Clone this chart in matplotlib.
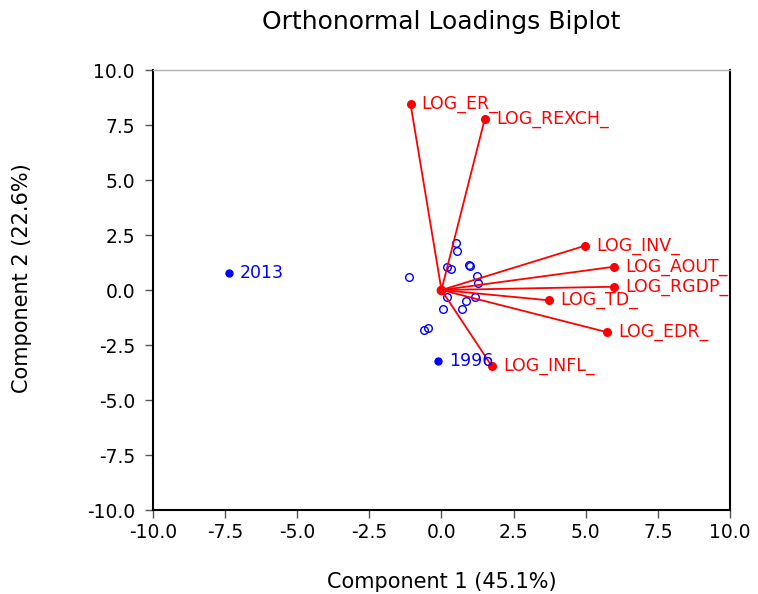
import matplotlib.pyplot as plt

plt.rcParams['font.family'] = ['DejaVu Sans']

# Loadings (component 1, component 2)
load_names = ["LOG_ER_", "LOG_REXCH_", "LOG_INV_", "LOG_AOUT_",
              "LOG_RGDP_", "LOG_TD_", "LOG_EDR_", "LOG_INFL_"]
load_x = [-1.07, 1.50, 4.97, 5.99, 5.99, 3.74, 5.75, 1.74]
load_y = [8.44, 7.77, 2.01, 1.06, 0.15, -0.47, -1.92, -3.45]

# Unlabeled observation scores
obs_x = [0.51, 0.55, 0.18, 0.34, 0.96, 0.99, -1.12, 1.22, 1.25,
         0.19, 1.17, 0.85, 0.04, 0.70, -0.61, -0.46]
obs_y = [2.12, 1.77, 1.06, 0.95, 1.12, 1.09, 0.58, 0.64, 0.30,
         -0.33, -0.32, -0.51, -0.86, -0.86, -1.80, -1.74]

# Labeled observations
lab_names = ["2013", "1996"]
lab_x = [-7.37, -0.11]
lab_y = [0.79, -3.24]

ticks = [-10.0, -7.5, -5.0, -2.5, 0.0, 2.5, 5.0, 7.5, 10.0]

fig = plt.figure(figsize=(7.58, 5.94), dpi=100)
ax = fig.add_axes([0.2018, 0.1414, 0.7612, 0.7407])

for x, y in zip(load_x, load_y):
    ax.plot([0, x], [0, y], color="#ff0000", lw=1.3, zorder=2)
ax.plot([0], [0], "o", color="#ff0000", ms=6, zorder=3)
ax.plot(load_x, load_y, "o", color="#ff0000", ms=5.5, ls="none", zorder=3)
for n, x, y in zip(load_names, load_x, load_y):
    ax.annotate(n, (x, y), xytext=(8, 0), textcoords="offset points",
                color="#ff0000", fontsize=12.5, va="center", ha="left")

ax.plot(obs_x, obs_y, "o", mfc="none", mec="#0000ff", mew=1.0, ms=5.5,
        ls="none", zorder=1)
ax.plot(lab_x, lab_y, "o", color="#0000ff", ms=5, ls="none", zorder=1)
for n, x, y in zip(lab_names, lab_x, lab_y):
    ax.annotate(n, (x, y), xytext=(8, 0), textcoords="offset points",
                color="#0000ff", fontsize=12.5, va="center", ha="left")

ax.set_xlim(-10, 10)
ax.set_ylim(-10, 10)
ax.set_xticks(ticks)
ax.set_yticks(ticks)
ax.set_xticklabels([f"{t:.1f}" for t in ticks])
ax.set_yticklabels([f"{t:.1f}" for t in ticks])
ax.tick_params(direction="out", length=6, width=1, color="#555555",
               labelsize=13.5)
ax.tick_params(axis="x", pad=3)
ax.tick_params(axis="y", pad=7)

for s in ["left", "bottom", "right"]:
    ax.spines[s].set_color("black")
    ax.spines[s].set_linewidth(1.5)
ax.spines["top"].set_color("#b0b0b0")
ax.spines["top"].set_linewidth(1)

ax.set_xlabel("Component 1 (45.1%)", fontsize=15, va="center")
ax.xaxis.set_label_coords(0.5, -0.164)
ax.set_ylabel("Component 2 (22.6%)", fontsize=15, va="center")
ax.yaxis.set_label_coords(-0.227, 0.527)
ax.set_title("Orthonormal Loadings Biplot", fontsize=18, y=1.109,
             va="center", pad=0)

fig.savefig("out.png", dpi=100)
